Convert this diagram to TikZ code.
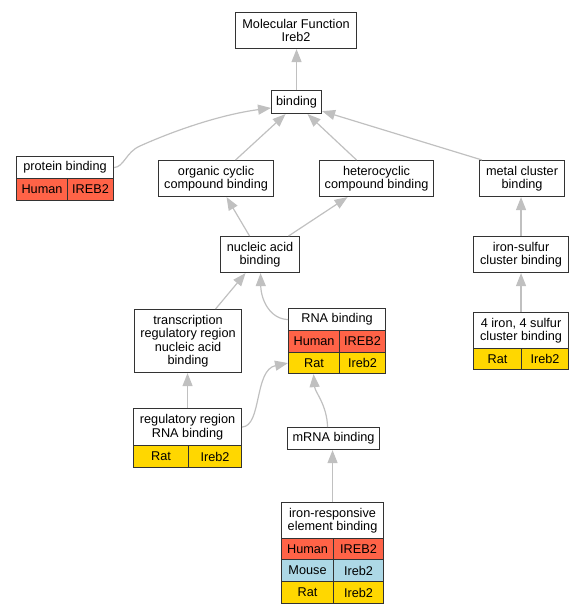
\documentclass[tikz,border=0pt]{standalone}
\usepackage{fontspec}
\setmainfont{Liberation Sans}
\usetikzlibrary{arrows.meta}
\definecolor{human}{HTML}{FF6347}
\definecolor{mouse}{HTML}{ADD8E6}
\definecolor{rat}{HTML}{FFD700}
\definecolor{edgegray}{HTML}{C0C0C0}
\definecolor{bordergray}{HTML}{333333}
\begin{document}
\begin{tikzpicture}[x=1pt,y=-1pt,
 box/.style={draw=bordergray, line width=1.1pt, fill=white, inner sep=0pt, anchor=north west, align=center, font=\fontsize{12.7}{13.5}\selectfont},
 cell/.style={box, fill=#1},
 edge/.style={draw=edgegray, line width=1.2pt, -{Triangle[length=13pt,width=10pt,fill=edgegray]}},
]
\useasboundingbox (0,0) rectangle (583,613);
% nodes
\node[box, minimum width=121, minimum height=36] (mf) at (235,12) {Molecular Function\\Ireb2};
\node[box, minimum width=50, minimum height=23] (binding) at (271,90) {binding};
% protein binding
\node[box, minimum width=97, minimum height=44] (pb) at (16,156) {};
\node[box, minimum width=97, minimum height=22] (pbt) at (16,156) {protein binding};
\node[cell=human, minimum width=51, minimum height=22] (pbh) at (16,178) {Human};
\node[cell=human, minimum width=46, minimum height=22] (pbi) at (67,178) {IREB2};
\node[box, minimum width=115, minimum height=36] (occ) at (158,160) {organic cyclic\\compound binding};
\node[box, minimum width=114, minimum height=36] (hcc) at (319,160) {heterocyclic\\compound binding};
\node[box, minimum width=85, minimum height=36] (mcb) at (479,160) {metal cluster\\binding};
\node[box, minimum width=79, minimum height=36] (nab) at (220,236) {nucleic acid\\binding};
\node[box, minimum width=95, minimum height=36] (isc) at (473,236) {iron-sulfur\\cluster binding};
\node[box, minimum width=107, minimum height=63] (trr) at (134,309) {transcription\\regulatory region\\nucleic acid\\binding};
% RNA binding
\node[box, minimum width=97, minimum height=65] (rna) at (288,308) {};
\node[box, minimum width=97, minimum height=22] (rnat) at (288,308) {RNA binding};
\node[cell=human, minimum width=51, minimum height=22] (rnah1) at (288,330) {Human};
\node[cell=human, minimum width=46, minimum height=22] (rnah2) at (339,330) {IREB2};
\node[cell=rat, minimum width=51, minimum height=21] (rnar1) at (288,352) {Rat};
\node[cell=rat, minimum width=46, minimum height=21] (rnar2) at (339,352) {Ireb2};
% 4 iron 4 sulfur
\node[box, minimum width=95, minimum height=57] (fes) at (473,312) {};
\node[box, minimum width=95, minimum height=36] (fest) at (473,312) {4 iron, 4 sulfur\\cluster binding};
\node[cell=rat, minimum width=48, minimum height=21] (fesr1) at (473,348) {Rat};
\node[cell=rat, minimum width=47, minimum height=21] (fesr2) at (521,348) {Ireb2};
% regulatory region RNA binding
\node[box, minimum width=108, minimum height=59] (rrr) at (133,408) {};
\node[box, minimum width=108, minimum height=37] (rrrt) at (133,408) {regulatory region\\RNA binding};
\node[cell=rat, minimum width=55, minimum height=22] (rrrr1) at (133,445) {Rat};
\node[cell=rat, minimum width=53, minimum height=22] (rrrr2) at (188,445) {Ireb2};
\node[box, minimum width=92, minimum height=22] (mrna) at (287,427) {mRNA binding};
% iron-responsive element binding
\node[box, minimum width=102, minimum height=101] (ire) at (281,502) {};
\node[box, minimum width=102, minimum height=36] (iret) at (281,502) {iron-responsive\\element binding};
\node[cell=human, minimum width=52, minimum height=21] (ireh1) at (281,538) {Human};
\node[cell=human, minimum width=50, minimum height=21] (ireh2) at (333,538) {IREB2};
\node[cell=mouse, minimum width=52, minimum height=22] (irem1) at (281,559) {Mouse};
\node[cell=mouse, minimum width=50, minimum height=22] (irem2) at (333,559) {Ireb2};
\node[cell=rat, minimum width=52, minimum height=22] (irer1) at (281,581) {Rat};
\node[cell=rat, minimum width=50, minimum height=22] (irer2) at (333,581) {Ireb2};
% edges
\draw[edge] (binding.north) -- (binding.north |- mf.south);
\draw[edge] (pbt.east) .. controls (124,167) and (126,152) .. (140,146) .. controls (180,128) and (225,114) .. (binding.193);
\draw[edge] ([xshift=19.5]occ.north) -- ([xshift=-11]binding.south);
\draw[edge] ([xshift=-20]hcc.north) -- ([xshift=11]binding.south);
\draw[edge] ([xshift=3]mcb.north west) -- ([yshift=3]binding.south east);
\draw[edge] ([xshift=-10.5]nab.north) -- ([xshift=10.5]occ.south);
\draw[edge] ([xshift=28.5]nab.north) -- ([xshift=-29]hcc.south);
\draw[edge] (isc.north) -- (isc.north |- mcb.south);
\draw[edge] (fes.north) -- (isc.south);
\draw[edge] ([xshift=27.5]trr.north) -- ([xshift=-14.5]nab.south);
\draw[edge] (rnat.west) .. controls (270,319) and (261,300) .. ([xshift=0.5]nab.south);
\draw[edge] (rrr.north) -- (rrr.north |- trr.south);
\draw[edge] (rrrt.east) .. controls (262,426) and (254,370) .. (rnar1.west);
\draw[edge] ([xshift=-6]mrna.north) .. controls (327,405) and (315,392) .. ([xshift=-23.5]rna.south);
\draw[edge] (ire.north) -- (ire.north |- mrna.south);
\end{tikzpicture}
\end{document}
